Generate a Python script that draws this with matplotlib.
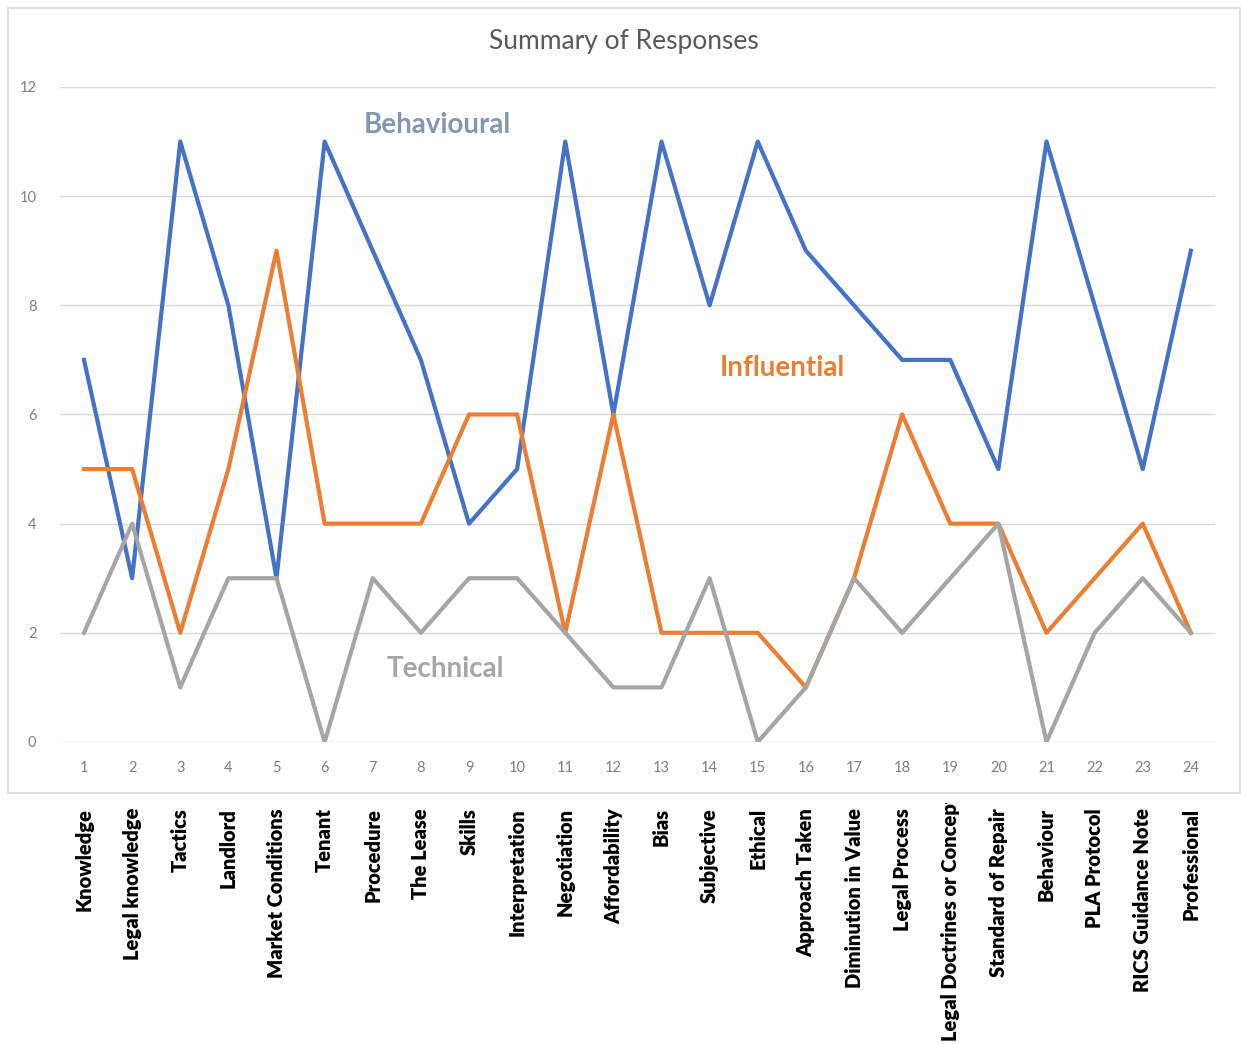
import matplotlib.pyplot as plt
from matplotlib.patches import Rectangle
import matplotlib.transforms as mtransforms

# categories along the x axis, numbered 1..24 in the chart
categories = ['Knowledge', 'Legal knowledge', 'Tactics', 'Landlord', 'Market Conditions',
              'Tenant', 'Procedure', 'The Lease', 'Skills', 'Interpretation',
              'Negotiation', 'Affordability', 'Bias', 'Subjective', 'Ethical',
              'Approach Taken', 'Diminution in Value', 'Legal Process',
              'Legal Doctrines or Concepts', 'Standard of Repair', 'Behaviour',
              'PLA Protocol', 'RICS Guidance Note', 'Professional']
positions = list(range(1, 25))

behavioural = [7, 3, 11, 8, 3, 11, 9, 7, 4, 5, 11, 6, 11, 8, 11, 9, 8, 7, 7, 5, 11, 8, 5, 9]
influential = [5, 5, 2, 5, 9, 4, 4, 4, 6, 6, 2, 6, 2, 2, 2, 1, 3, 6, 4, 4, 2, 3, 4, 2]
technical = [2, 4, 1, 3, 3, 0, 3, 2, 3, 3, 2, 1, 1, 3, 0, 1, 3, 2, 3, 4, 0, 2, 3, 2]

y_ticks = [0, 2, 4, 6, 8, 10, 12]

plt.rcParams['font.family'] = ['Lato', 'DejaVu Sans']

W, H = 1241, 1044
fig = plt.figure(figsize=(W / 100, H / 100), dpi=100)
ax = fig.add_axes([0.0483, 0.2893, 0.9307, 0.6274])

# outer chart frame like the Excel chart area
fig.patches.append(Rectangle((8 / W, 1 - 793 / H), 1232 / W, 785 / H,
                             transform=fig.transFigure, fill=False,
                             edgecolor='#d9d9d9', linewidth=1.2))

ax.plot(positions, behavioural, color='#4472c4', lw=3.0)
ax.plot(positions, influential, color='#ed7d31', lw=3.0)
ax.plot(positions, technical, color='#a5a5a5', lw=3.0)

ax.set_xlim(0.5, 24.5)
ax.set_ylim(0, 12)
ax.set_yticks(y_ticks)
ax.set_xticks(positions)
ax.grid(axis='y', color='#d9d9d9', lw=1)
ax.set_axisbelow(True)
for s in ax.spines.values():
    s.set_visible(False)
ax.tick_params(axis='both', length=0, labelsize=10.5, labelcolor='#7f7f7f')
ax.tick_params(axis='x', pad=14)
ax.tick_params(axis='y', pad=17)

fig.text(624 / W, 1 - 42 / H, 'Summary of Responses', fontsize=19, color='#595959',
         ha='center', va='center')

ax.text(8.35, 11.3, 'Behavioural', color='#8497b0', fontsize=20,
        fontweight='bold', ha='center', va='center')
ax.text(15.52, 6.85, 'Influential', color='#ed7d31', fontsize=20,
        fontweight='bold', ha='center', va='center')
ax.text(8.5, 1.34, 'Technical', color='#a5a5a5', fontsize=20,
        fontweight='bold', ha='center', va='center')

# category names below the framed chart; the long one is cut off at the top
clip = Rectangle((0, 0), 1, 1 - 803 / H, transform=fig.transFigure)
trans = mtransforms.blended_transform_factory(ax.transData, fig.transFigure)
for x, name in zip(positions, categories):
    if name == 'Legal Doctrines or Concepts':
        t = ax.text(x, 1 - 1041 / H, name, transform=trans, rotation=90, ha='center',
                    va='bottom', fontsize=14.5, fontweight='heavy', color='black')
        t.set_clip_path(clip)
        t.set_clip_on(True)
    else:
        ax.text(x, 1 - 808 / H, name, transform=trans, rotation=90, ha='center',
                va='top', fontsize=14.5, fontweight='heavy', color='black', clip_on=False)

fig.savefig('out.png', dpi=100)
